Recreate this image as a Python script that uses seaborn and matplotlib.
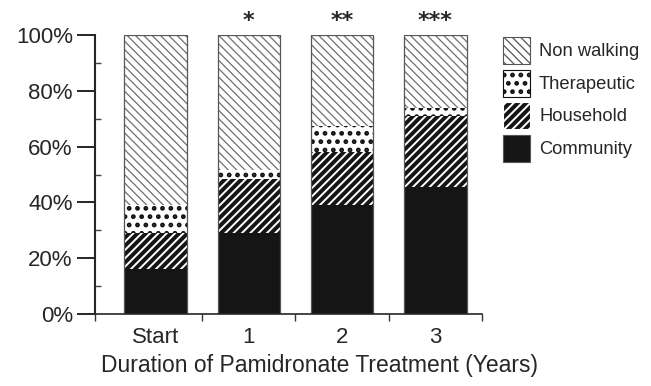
import numpy as np
import pandas as pd
import matplotlib
matplotlib.use("Agg")
import matplotlib.pyplot as plt
import matplotlib.patches as mpatches
from matplotlib.ticker import FixedLocator
import seaborn as sns

# data: percent of patients per walking category at each time point
years = ["Start", "1", "2", "3"]
community = [16, 29, 39, 45.5]
household = [13, 19.5, 19, 25.5]
therapeutic = [10, 3, 9.5, 3]
non_walking = [61, 48.5, 32.5, 26]
stars = ["", "*", "**", "***"]

df = pd.DataFrame({"year": years, "Community": community, "Household": household,
                   "Therapeutic": therapeutic, "Non walking": non_walking})
order = ["Community", "Household", "Therapeutic", "Non walking"]
cum = df[order].cumsum(axis=1)
cum["year"] = df["year"]

sns.set_style("ticks")
plt.rcParams['font.family'] = ['Liberation Sans', 'DejaVu Sans']
plt.rcParams['hatch.linewidth'] = 0.9

fig = plt.figure(figsize=(6.51, 3.86), dpi=100)
ax = fig.add_axes([0.1459, 0.1865, 0.5945, 0.7228])

styles = {
    "Non walking": dict(color="white", edgecolor="#6e6e6e", hatch="\\\\\\\\", hlw=0.9),
    "Therapeutic": dict(color="white", edgecolor="#111111", hatch="..", hlw=2.2),
    "Household": dict(color="#151515", edgecolor="white", hatch="////", hlw=1.4),
    "Community": dict(color="#151515", edgecolor="#151515", hatch=None, hlw=1.0),
}

# draw cumulative totals from top layer down so each overlays the previous
for name in order[::-1]:
    st = styles[name]
    sns.barplot(data=cum, x="year", y=name, ax=ax,
                color=st["color"], edgecolor=st["edgecolor"], hatch=st["hatch"],
                linewidth=0, saturation=1, width=0.67, errorbar=None)
    for p in ax.containers[-1]:
        if hasattr(p, "set_hatch_linewidth"):
            p.set_hatch_linewidth(st["hlw"])

# outline of the full stacked bar
sns.barplot(data=cum, x="year", y="Non walking", ax=ax,
            fill=False, edgecolor="#555555", linewidth=0.9, width=0.67, errorbar=None)

for i, s in enumerate(stars):
    if s:
        ax.text(i, 101.5, s, ha="center", va="bottom", fontsize=16, fontweight="bold",
                family="DejaVu Sans")

ax.set_xlim(-0.65, 3.5)
ax.set_ylim(0, 100)
ax.set_yticks(np.arange(0, 101, 20))
ax.set_yticklabels([f"{v}%" for v in range(0, 101, 20)])
ax.yaxis.set_minor_locator(FixedLocator(np.arange(10, 100, 20)))
ax.tick_params(axis="y", which="major", direction="out", length=13, width=1.2,
               labelsize=16, pad=3, color="black")
ax.tick_params(axis="y", which="minor", direction="in", length=4, width=1.0, color="#444444")
ax.xaxis.set_minor_locator(FixedLocator([-0.65, 0.5, 1.5, 2.5, 3.5]))
ax.tick_params(axis="x", which="major", length=0, labelsize=16, pad=9)
ax.tick_params(axis="x", which="minor", direction="out", length=5, width=1.0, color="#333333")
ax.set_xlabel("Duration of Pamidronate Treatment (Years)", fontsize=16.5, labelpad=5)
ax.xaxis.label.set_x(0.579)
ax.set_ylabel("")

for side in ["top", "right"]:
    ax.spines[side].set_visible(False)
ax.spines["left"].set_linewidth(1.5)
ax.spines["bottom"].set_linewidth(1.2)

handles = []
for name in order[::-1]:
    st = styles[name]
    h = mpatches.Patch(facecolor=st["color"], edgecolor=st["edgecolor"],
                       hatch=st["hatch"], label=name, linewidth=0.8)
    handles.append(h)
leg = fig.legend(handles=handles, loc="upper left", bbox_to_anchor=(0.7727, 0.904),
                 frameon=False, fontsize=13.2, handlelength=1.473, handleheight=1.889,
                 handletextpad=0.49, labelspacing=0.3, borderaxespad=0, borderpad=0)
for p, name in zip(leg.get_patches(), order[::-1]):
    p.set_edgecolor("#555555" if name in ("Non walking", "Community") else styles[name]["edgecolor"])
    if hasattr(p, "set_hatch_linewidth"):
        p.set_hatch_linewidth(styles[name]["hlw"])

fig.savefig("out.png", dpi=100)
